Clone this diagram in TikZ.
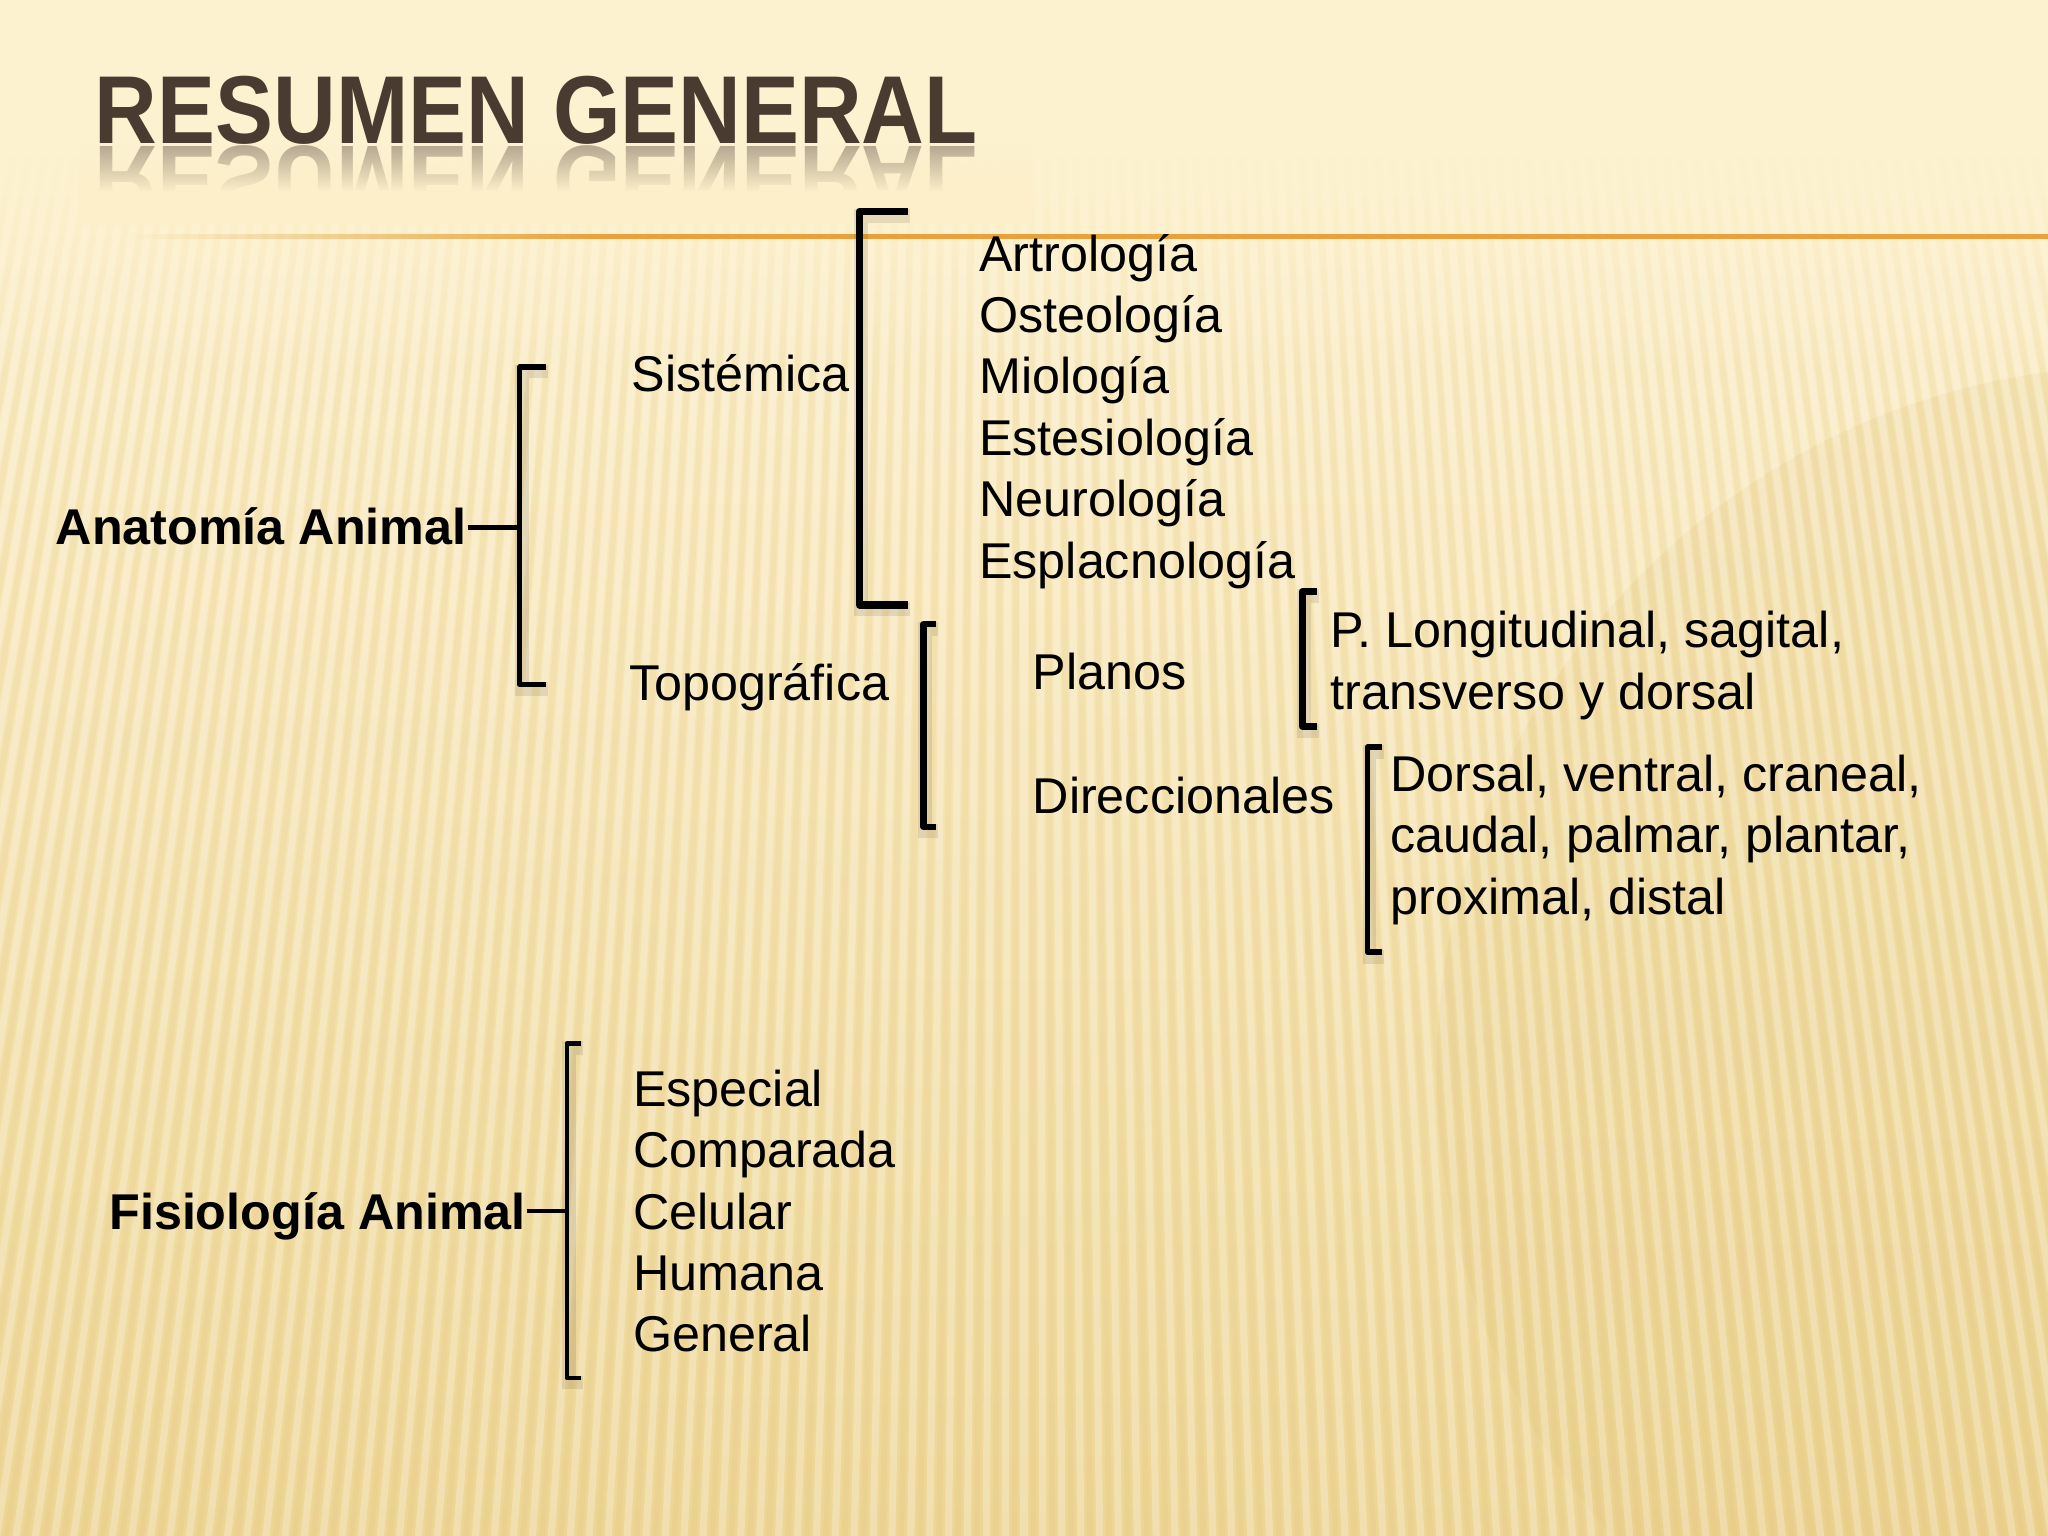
\documentclass[tikz,border=0pt]{standalone}
\usepackage{fontspec}
\setmainfont{Liberation Sans}
\usetikzlibrary{fadings}
\definecolor{bgtop}{HTML}{FDF2D0}
\definecolor{bgmid}{HTML}{F7E4AE}
\definecolor{bgbot}{HTML}{EDD594}
\definecolor{reflbg}{HTML}{FCEFC9}
\definecolor{titlebrown}{HTML}{4A3B30}
\definecolor{rulecol}{HTML}{E9A23B}
\definecolor{stripedark}{HTML}{D9B970}
\definecolor{dome}{HTML}{E4C77C}
\tikzfading[name=fadetopdown, top color=transparent!0, bottom color=transparent!100]
\tikzfading[name=fadebottomup, top color=transparent!100, bottom color=transparent!0]
\tikzfading[name=fadeleftin, left color=transparent!100, right color=transparent!0]
\begin{document}
\begin{tikzpicture}[x=0.01cm, y=-0.01cm,
  txt/.style={anchor=base west, inner sep=0pt, text=black, font=\fontsize{10.95pt}{13.37pt}\selectfont},
  boldtxt/.style={anchor=base west, inner sep=0pt, text=black, font=\fontsize{10.95pt}{13.37pt}\selectfont\bfseries},
  titletxt/.style={anchor=base west, inner sep=0pt, text=titlebrown, font=\fontsize{21pt}{25pt}\selectfont\bfseries},
  brk/.style={draw=black, line width=#1, line join=round,
    preaction={draw=black, opacity=0.09, line width=3pt, transform canvas={shift={(1.5,3.5)}}}},
  stem/.style={draw=black, line width=#1}]

% ---------- background ----------
\useasboundingbox (0,0) rectangle (1568,1176);
\shade[top color=bgtop, middle color=bgmid, bottom color=bgbot] (0,0) rectangle (1568,1176);
\fill[dome, opacity=0.22] (1640,820) circle (540);
\begin{scope}
  \clip (0,0) rectangle (1568,1176);
  \foreach \a in {-12,-11.84,...,12}
    \draw[white, opacity=0.26, line width=0.055cm] (784,-4000) -- ++({6000*sin(\a)},{6000*cos(\a)});
  \foreach \a in {-11.92,-11.76,...,12}
    \draw[stripedark, opacity=0.11, line width=0.045cm] (784,-4000) -- ++({6000*sin(\a)},{6000*cos(\a)});
\end{scope}
\fill[bgtop] (0,0) rectangle (1568,120);
\fill[bgtop, path fading=fadetopdown] (0,119) rectangle (1568,300);

% ---------- orange rule ----------
\fill[rulecol, path fading=fadeleftin] (100,179.5) rectangle (460,183);
\fill[rulecol] (459,179.5) rectangle (1568,183);

% ---------- title with reflection ----------
\node[titletxt] (title) at (72,110) {\scalebox{0.9}[1]{RESUMEN GENERAL}};
\begin{scope}[shift={(0,112)}, yscale=-1]
  \node[titletxt, opacity=0.4, transform shape] (titlerefl) at (72,0) {\scalebox{0.9}[1]{RESUMEN GENERAL}};
\end{scope}
\fill[reflbg, path fading=fadebottomup] (60,111) rectangle (790,147);
\fill[reflbg] (60,146.5) rectangle (790,172);

% ---------- Anatomía ----------
\node[boldtxt] (anat) at (42,417) {Anatomía Animal};
\coordinate (bA) at (398,404);
\draw[brk=1.1pt] (418,281) -- (398,281) -- (398,524) -- (418,524);
\draw[stem=1pt] (anat.east |- bA) -- (bA);

\node[txt] (sist) at (483,300) {Sistémica};
\node[txt] (topo) at (481,536) {Topográfica};

\draw[brk=1.7pt] (695,162) -- (658,162) -- (658,463) -- (695,463);
\node[txt] (sistlist) at (749,207.5) {\vtop{\hbox{Artrología}\hbox{Osteología}\hbox{Miología}\hbox{Estesiología}\hbox{Neurología}\hbox{Esplacnología}}};

\draw[brk=1.35pt] (717,478) -- (707,478) -- (707,633) -- (717,633);
\node[txt] (planos) at (790,528) {Planos};
\node[txt] (direc) at (790,623) {Direccionales};

\draw[brk=1.45pt] (1008,453) -- (997,453) -- (997,556) -- (1008,556);
\node[txt] (planlist) at (1018,496) {\vtop{\hbox{P. Longitudinal, sagital,}\hbox{transverso y dorsal}}};

\draw[brk=1.2pt] (1058,572) -- (1047,572) -- (1047,729) -- (1058,729);
\node[txt] (direclist) at (1064,606) {\vtop{\hbox{Dorsal, ventral, craneal,}\hbox{caudal, palmar, plantar,}\hbox{proximal, distal}}};

% ---------- Fisiología ----------
\node[boldtxt] (fisio) at (83,941) {Fisiología Animal};
\coordinate (bF) at (434,927);
\draw[brk=1pt] (445,799) -- (434,799) -- (434,1055) -- (445,1055);
\draw[stem=0.8pt] (fisio.east |- bF) -- (bF);
\node[txt] (fisiolist) at (484,847) {\vtop{\hbox{Especial}\hbox{Comparada}\hbox{Celular}\hbox{Humana}\hbox{General}}};

\end{tikzpicture}
\end{document}
